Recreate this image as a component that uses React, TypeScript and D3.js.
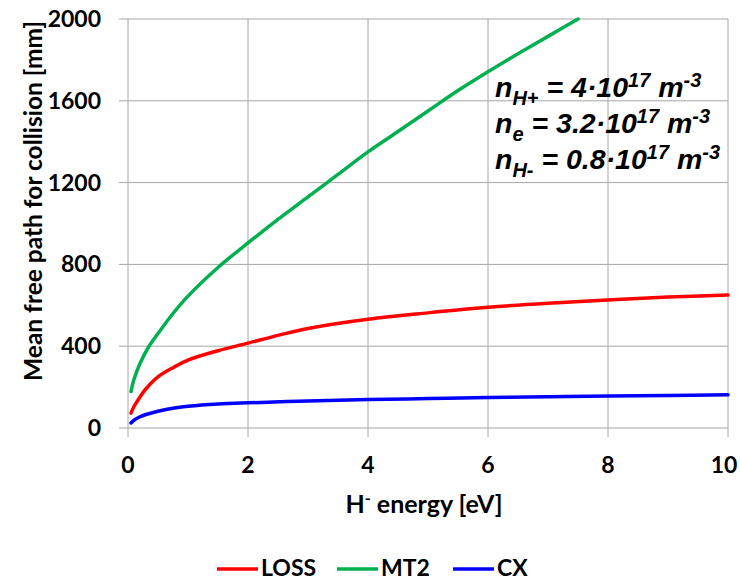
import React from "react";
import * as d3 from "d3";

// Mean free path [mm] versus H- energy [eV]
const energyLoss = [0.05, 0.1, 0.2, 0.3, 0.5, 0.75, 1, 1.5, 2, 2.5, 3, 4, 5, 6, 7, 8, 9, 10];
const lossValues = [73, 105, 152, 192, 250, 295, 332, 378, 415, 453, 487, 532, 563, 590, 610, 626, 640, 650];

const energyMt2 = [0.05, 0.1, 0.2, 0.34, 0.5, 0.75, 1, 1.5, 2, 2.5, 3, 3.5, 4, 4.5, 5, 5.5, 6, 6.5, 7, 7.5];
const mt2Values = [178, 238, 315, 395, 462, 560, 645, 785, 905, 1020, 1130, 1240, 1350, 1450, 1550, 1650, 1742, 1830, 1915, 2000];

const energyCx = [0.05, 0.1, 0.2, 0.3, 0.5, 0.75, 1, 1.5, 2, 3, 4, 5, 6, 7, 8, 9, 10];
const cxValues = [25, 38, 55, 66, 82, 97, 106, 117, 123, 132, 139, 144, 149, 153, 156, 159, 162];

const xTicks = [0, 2, 4, 6, 8, 10];
const yTicks = [0, 400, 800, 1200, 1600, 2000];

const seriesNames = ["LOSS", "MT2", "CX"];
const seriesColors = ["#ff0000", "#00b050", "#0000ff"];

const W = 740;
const H = 581;
const left = 128;
const right = 728;
const top = 19;
const bottom = 428;
const font = "Lato, 'Open Sans', sans-serif";
const annoFont = "'Liberation Sans', Arial, sans-serif";

export default function App() {
  const x = d3.scaleLinear().domain([0, 10]).range([left, right]);
  const y = d3.scaleLinear().domain([0, 2000]).range([bottom, top]);

  const line = d3
    .line<[number, number]>()
    .x((d) => x(d[0]))
    .y((d) => y(d[1]))
    .curve(d3.curveCatmullRom.alpha(0.5));

  const series: [number, number][][] = [
    energyLoss.map((e, i) => [e, lossValues[i]]),
    energyMt2.map((e, i) => [e, mt2Values[i]]),
    energyCx.map((e, i) => [e, cxValues[i]]),
  ];

  const grid = "#a6a6a6";
  const legendX = [217, 337, 453];

  return (
    <svg width={W} height={H} style={{ position: "absolute", left: 0, top: 0 }}>
      <rect width={W} height={H} fill="#fff" />
      <defs>
        <clipPath id="plotClip">
          <rect x={left} y={top - 2} width={right - left + 2} height={bottom - top + 4} />
        </clipPath>
      </defs>

      {/* grid lines and tick marks */}
      {xTicks.map((t) => (
        <line key={"gx" + t} x1={x(t)} x2={x(t)} y1={top} y2={bottom + 9} stroke={grid} strokeWidth={1} />
      ))}
      {yTicks.map((t) => (
        <line key={"gy" + t} x1={left - 9} x2={right} y1={y(t)} y2={y(t)} stroke={grid} strokeWidth={1} />
      ))}

      {/* tick labels */}
      {xTicks.map((t) => (
        <text
          key={"tx" + t}
          x={t === 10 ? x(t) - 4 : x(t)}
          y={473}
          textAnchor="middle"
          fontFamily={font}
          fontWeight="bold"
          fontSize={23}
          fill="#000"
        >
          {t}
        </text>
      ))}
      {yTicks.map((t) => (
        <text key={"ty" + t} x={101} y={y(t) + 8} textAnchor="end" fontFamily={font} fontWeight="bold" fontSize={23} fill="#000">
          {t}
        </text>
      ))}

      {/* curves */}
      <g clipPath="url(#plotClip)">
        {series.map((s, i) => (
          <path key={seriesNames[i]} d={line(s) || ""} fill="none" stroke={seriesColors[i]} strokeWidth={3.5} strokeLinecap="round" />
        ))}
      </g>

      {/* axis titles */}
      <text
        transform="translate(42, 201) rotate(-90)"
        textAnchor="middle"
        fontFamily={font}
        fontWeight="bold"
        fontSize={24.5}
        fill="#000"
      >
        Mean free path for collision [mm]
      </text>
      <text x={424} y={513} textAnchor="middle" fontFamily={font} fontWeight="bold" fontSize={25} fill="#000">
        H<tspan dy={-9} fontSize={16}>-</tspan>
        <tspan dy={9}> energy [eV]</tspan>
      </text>

      {/* plasma parameters */}
      <g fontFamily={annoFont} fontWeight="bold" fontStyle="italic" fontSize={28.5} fill="#000">
        <text x={495} y={97}>
          n<tspan dy={8} fontSize={20}>H+</tspan>
          <tspan dy={-8}> = 4·10</tspan>
          <tspan dy={-10} fontSize={20}>17</tspan>
          <tspan dy={10}> m</tspan>
          <tspan dy={-10} fontSize={20}>-3</tspan>
        </text>
        <text x={495} y={133}>
          n<tspan dy={8} fontSize={20}>e</tspan>
          <tspan dy={-8}> = 3.2·10</tspan>
          <tspan dy={-10} fontSize={20}>17</tspan>
          <tspan dy={10}> m</tspan>
          <tspan dy={-10} fontSize={20}>-3</tspan>
        </text>
        <text x={495} y={169}>
          n<tspan dy={8} fontSize={20}>H-</tspan>
          <tspan dy={-8}> = 0.8·10</tspan>
          <tspan dy={-10} fontSize={20}>17</tspan>
          <tspan dy={10}> m</tspan>
          <tspan dy={-10} fontSize={20}>-3</tspan>
        </text>
      </g>

      {/* legend */}
      {seriesNames.map((n, i) => (
        <g key={"lg" + n}>
          <line x1={legendX[i]} x2={legendX[i] + 41} y1={569} y2={569} stroke={seriesColors[i]} strokeWidth={3.5} />
          <text x={legendX[i] + 44} y={576} fontFamily={font} fontWeight="bold" fontSize={23} fill="#000">
            {n}
          </text>
        </g>
      ))}
    </svg>
  );
}
